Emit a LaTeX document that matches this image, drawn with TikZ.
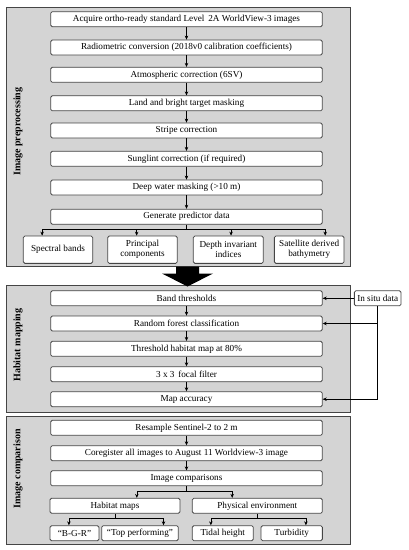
\documentclass[tikz,border=0pt]{standalone}
\usepackage{fontspec}
\setmainfont{Liberation Serif}
\usetikzlibrary{arrows.meta,calc}
\definecolor{panelfill}{HTML}{D4D4D4}
\definecolor{edgegray}{HTML}{454545}
\tikzset{
  panel/.style={draw=edgegray,fill=panelfill,line width=0.8pt},
  stepbox/.style={draw=edgegray,fill=white,rounded corners=1.5pt,line width=0.8pt,
    inner sep=0pt,align=center,font=\fontsize{9.2}{10}\selectfont,minimum height=15pt},
  widebox/.style={stepbox,minimum width=271.6pt},
  sidelabel/.style={rotate=90,font=\fontsize{10}{12}\selectfont\bfseries},
  conn/.style={draw=black,line width=0.6pt},
  arr/.style={conn,-{Stealth[length=4pt,width=3.5pt]}},
  bigarrow/.style={fill=black,draw=none}
}
\begin{document}
\begin{tikzpicture}[x=1pt,y=-1pt]
\useasboundingbox (0,0) rectangle (408,550);
% panels
\draw[panel] (6.7,7) rectangle (350.7,266.7);
\draw[panel] (6.7,285) rectangle (350.7,412);
\draw[panel] (6.7,416) rectangle (350.7,544);
% big arrow
\fill[bigarrow] (176,266.7) -- (199,266.7) -- (199,273.5) -- (213,273.5) -- (187.5,286.5) -- (162,273.5) -- (176,273.5) -- cycle;
% labels
\node[sidelabel] (lab1) at (18,131.7) {Image preprocessing};
\node[sidelabel] (lab2) at (18,345) {Habitat mapping};
\node[sidelabel] (lab3) at (18,469) {Image comparison};
% panel 1
\node[widebox] (a1) at (186.5,19.2) {Acquire ortho-ready standard Level\, 2A WorldView-3 images};
\node[widebox] (a2) at (186.5,47.5) {Radiometric conversion (2018v0 calibration coefficients)};
\node[widebox] (a3) at (186.5,74.8) {Atmospheric correction (6SV)};
\node[widebox] (a4) at (186.5,103.3) {Land and bright target masking};
\node[widebox] (a5) at (186.5,130.5) {Stripe correction};
\node[widebox] (a6) at (186.5,158.8) {Sunglint correction (if required)};
\node[widebox] (a7) at (186.5,187.5) {Deep water masking (>10 m)};
\node[widebox] (a8) at (186.5,216.7) {Generate predictor data};
\foreach \u/\v in {a1/a2,a2/a3,a3/a4,a4/a5,a5/a6,a6/a7,a7/a8}
  \draw[arr] (\u.south) -- (\v.north);
\node[stepbox,minimum width=69.4pt,minimum height=27.3pt] (b1) at (58,249.7) {Spectral bands};
\node[stepbox,minimum width=69.6pt,minimum height=27.3pt] (b2) at (142.5,249.7) {Principal\\components};
\node[stepbox,minimum width=70pt,minimum height=27.3pt] (b3) at (228.3,249.7) {Depth invariant\\indices};
\node[stepbox,minimum width=69.7pt,minimum height=27.3pt] (b4) at (309.2,249.7) {Satellite derived\\bathymetry};
\coordinate (j1) at ($(a8.south)+(0,5)$);
\draw[conn] (a8.south) -- (j1);
\draw[arr] (j1) -| ($(b1.north west)!0.274!(b1.north east)$);
\draw[arr] (j1) -| ($(b2.north west)!0.417!(b2.north east)$);
\draw[arr] (j1) -| ($(b3.north west)!0.539!(b3.north east)$);
\draw[arr] (j1) -| ($(b4.north west)!0.727!(b4.north east)$);
% panel 2
\node[widebox] (c1) at (186.5,298.3) {Band thresholds};
\node[widebox] (c2) at (186.5,323.5) {Random forest classification};
\node[widebox] (c3) at (186.5,348.8) {Threshold habitat map at 80\%};
\node[widebox] (c4) at (186.5,374.2) {3 x 3\, focal filter};
\node[widebox] (c5) at (186.5,399.2) {Map accuracy};
\foreach \u/\v in {c1/c2,c2/c3,c3/c4,c4/c5}
  \draw[arr] (\u.south) -- (\v.north);
\node[stepbox,minimum width=46.7pt] (ins) at (377.7,298.3) {In situ data};
\draw[arr] (ins.west) -- (c1.east);
\coordinate (k0) at ($(ins.south west)!0.5!(ins.south east)$);
\coordinate (k1) at (k0 |- c2.east);
\coordinate (k2) at (k0 |- c5.east);
\draw[conn] (k0) -- (k2);
\draw[arr] (k1) -- (c2.east);
\draw[arr] (k2) -- (c5.east);
% panel 3
\node[widebox] (d1) at (186.5,427.8) {Resample Sentinel-2 to 2 m};
\node[widebox] (d2) at (186.5,453.2) {Coregister all images to August 11 Worldview-3 image};
\node[widebox] (d3) at (186.5,478.3) {Image comparisons};
\draw[arr] (d1.south) -- (d2.north);
\draw[arr] (d2.south) -- (d3.north);
\node[stepbox,minimum width=130pt] (e1) at (115,505.8) {Habitat maps};
\node[stepbox,minimum width=130pt] (e2) at (257.3,505.8) {Physical environment};
\coordinate (j3) at ($(d3.south)+(0,5)$);
\draw[conn] (d3.south) -- (j3);
\draw[arr] (j3) -| ($(e1.north west)!0.667!(e1.north east)$);
\draw[arr] (j3) -| ($(e2.north west)!0.308!(e2.north east)$);
\node[stepbox,minimum width=49pt] (f1) at (74.5,533.2) {``B-G-R''};
\node[stepbox,minimum width=76.6pt] (f2) at (140,533.2) {``Top performing''};
\node[stepbox,minimum width=61pt] (f3) at (222.8,533.2) {Tidal height};
\node[stepbox,minimum width=61.3pt] (f4) at (291.7,533.2) {Turbidity};
\coordinate (j4) at ($(e1.south)+(0,5)$);
\draw[conn] (e1.south) -- (j4);
\draw[arr] (j4) -| ($(f1.north west)!0.388!(f1.north east)$);
\draw[arr] (j4) -| ($(f2.north west)!0.804!(f2.north east)$);
\coordinate (j5) at ($(e2.south)+(0,5)$);
\draw[conn] (e2.south) -- (j5);
\draw[arr] (j5) -| ($(f3.north west)!0.307!(f3.north east)$);
\draw[arr] (j5) -| ($(f4.north west)!0.729!(f4.north east)$);
\end{tikzpicture}
\end{document}
